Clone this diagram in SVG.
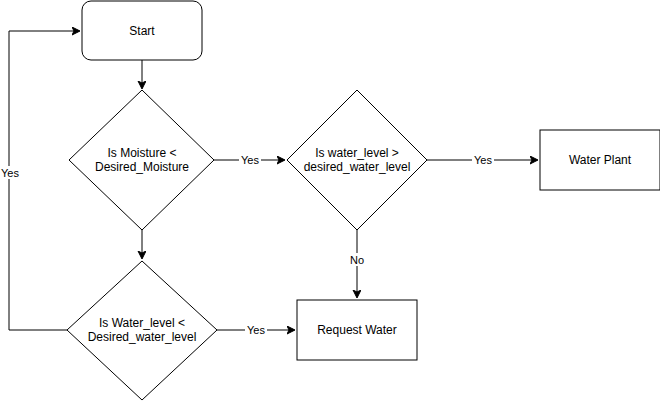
<svg xmlns="http://www.w3.org/2000/svg" width="660" height="402" viewBox="0 0 660 402">
<defs>
<marker id="arr" markerWidth="10" markerHeight="10" refX="7" refY="4" orient="auto" markerUnits="userSpaceOnUse">
<path d="M0,0 L8,4 L0,8 L2,4 Z" fill="#000" stroke="#000" stroke-width="1"/>
</marker>
<style>
.shape{fill:#fff;stroke:#000;stroke-width:1}
.t{font-family:"Liberation Sans",Arial,sans-serif;font-size:12px;fill:#000;text-anchor:middle}
.e{fill:none;stroke:#000;stroke-width:1}
.lbl{font-family:"Liberation Sans",Arial,sans-serif;font-size:11px;fill:#000;text-anchor:middle}
.lb{fill:#fff}
</style>
</defs>
<rect width="660" height="402" fill="#fff"/>
<g id="connectors">
<path class="e" d="M142,60 V88" marker-end="url(#arr)"/>
<path class="e" d="M142,230 V258" marker-end="url(#arr)"/>
<path class="e" d="M214,160 H284" marker-end="url(#arr)"/>
<path class="e" d="M427,160 H537" marker-end="url(#arr)"/>
<path class="e" d="M357,230 V297" marker-end="url(#arr)"/>
<path class="e" d="M217,330 H294" marker-end="url(#arr)"/>
<path class="e" d="M67,330 H9 V31 H79" marker-end="url(#arr)"/>
<rect class="lb" x="239" y="153" width="22" height="13"/>
<text class="lbl" x="250" y="164">Yes</text>
<rect class="lb" x="472" y="153" width="22" height="13"/>
<text class="lbl" x="483" y="164">Yes</text>
<rect class="lb" x="348" y="253" width="18" height="13"/>
<text class="lbl" x="357" y="264">No</text>
<rect class="lb" x="245" y="323" width="22" height="13"/>
<text class="lbl" x="256" y="334">Yes</text>
<rect class="lb" x="0" y="166" width="20" height="13"/>
<text class="lbl" x="10" y="177">Yes</text>
</g>
<g id="start">
<rect class="shape" x="82" y="1" width="120" height="59" rx="9"/>
<text class="t" x="142" y="35">Start</text>
</g>
<g id="moisture">
<polygon class="shape" points="142,90 214,160 142,230 69,160"/>
<text class="t" x="142" y="157">Is Moisture &lt;</text>
<text class="t" x="142" y="171">Desired_Moisture</text>
</g>
<g id="waterlevel">
<polygon class="shape" points="357,90 427,160 357,230 287,160"/>
<text class="t" x="357" y="157">Is water_level &gt;</text>
<text class="t" x="357" y="171">desired_water_level</text>
</g>
<g id="waterplant">
<rect class="shape" x="540" y="130" width="120" height="60"/>
<text class="t" x="600" y="164">Water Plant</text>
</g>
<g id="waterlevel2">
<polygon class="shape" points="142,261 217,330 142,400 67,330"/>
<text class="t" x="142" y="327">Is Water_level &lt;</text>
<text class="t" x="142" y="341">Desired_water_level</text>
</g>
<g id="request">
<rect class="shape" x="297" y="300" width="120" height="60"/>
<text class="t" x="357" y="334">Request Water</text>
</g>
</svg>
